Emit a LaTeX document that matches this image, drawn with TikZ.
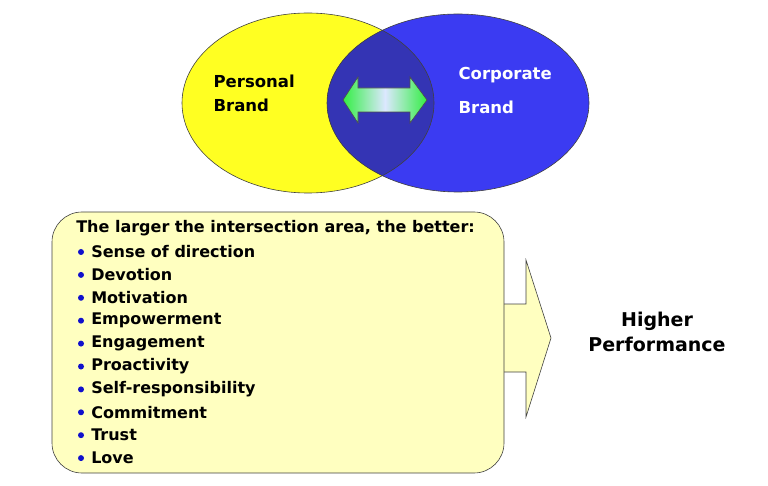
\documentclass[tikz,border=0pt]{standalone}
\usepackage{fontspec}
\setmainfont{DejaVu Sans}
\usetikzlibrary{shapes.geometric}
\definecolor{brandyellow}{HTML}{FFFF22}
\definecolor{brandblue}{HTML}{3B3BF2}
\definecolor{overlapblue}{HTML}{3434B4}
\definecolor{boxyellow}{HTML}{FFFFC0}
\definecolor{arrowgreen}{HTML}{33EE44}
\definecolor{arrowpale}{HTML}{DCE8FF}
\definecolor{dotblue}{HTML}{1010CC}
\tikzset{
  brandtext/.style={font=\bfseries\fontsize{16.5}{24}\selectfont, align=left, anchor=west},
  listtext/.style={font=\bfseries\fontsize{16}{19}\selectfont, anchor=west, inner sep=0pt},
  dot/.style={circle, fill=dotblue, inner sep=0pt, minimum size=6pt},
}
\begin{document}
\begin{tikzpicture}[x=1pt,y=-1pt,line width=0.6pt]
\useasboundingbox (0,0) rectangle (768,486);
% the two brands
\fill[brandyellow] (308,103) ellipse [x radius=126pt, y radius=90pt];
\fill[brandblue] (458,103) ellipse [x radius=131pt, y radius=89pt];
\begin{scope}
\clip (308,103) ellipse [x radius=126pt, y radius=90pt];
\fill[overlapblue] (458,103) ellipse [x radius=131pt, y radius=89pt];
\end{scope}
\node (personal) [ellipse, draw=black!75, minimum width=252pt, minimum height=180pt, inner sep=0pt] at (308,103) {};
\node (corporate) [ellipse, draw=black!75, minimum width=262pt, minimum height=178pt, inner sep=0pt] at (458,103) {};
\node (ptext) [brandtext] at (210,93) {Personal\\Brand};
\node (ctext) [brandtext, text=white, font=\bfseries\fontsize{16.5}{34}\selectfont] at (455,90) {Corporate\\Brand};
% exchange arrow
\draw[black!70, left color=arrowgreen, right color=arrowgreen, middle color=arrowpale]
  (343,100) -- (358,77) -- (358,88) -- (410,88) -- (410,77) -- (427,100)
  -- (410,123) -- (410,112) -- (358,112) -- (358,123) -- cycle;
% result arrow and list box
\draw[black!75, fill=boxyellow] (490,304) -- (526,304) -- (526,260) -- (551,338)
  -- (526,417) -- (526,372) -- (490,372);
\node (box) [draw=black!75, fill=boxyellow, rounded corners=30pt, minimum width=452pt, minimum height=261pt] at (278,342.5) {};
\node (title) [listtext] at (76,228) {The larger the intersection area, the better:};
\foreach \word [count=\i] in {Sense of direction, Devotion, Motivation, Empowerment, Engagement, Proactivity, Self-responsibility, Commitment, Trust, Love}
{
  \node (b\i) [dot] at (81,{252+(\i-1)*22.9}) {};
  \node (t\i) [listtext] at (91,{252+(\i-1)*22.9}) {\word};
}
\node (result) [font=\bfseries\fontsize{19}{25}\selectfont, align=center] at (657,332) {Higher\\Performance};
\end{tikzpicture}
\end{document}
